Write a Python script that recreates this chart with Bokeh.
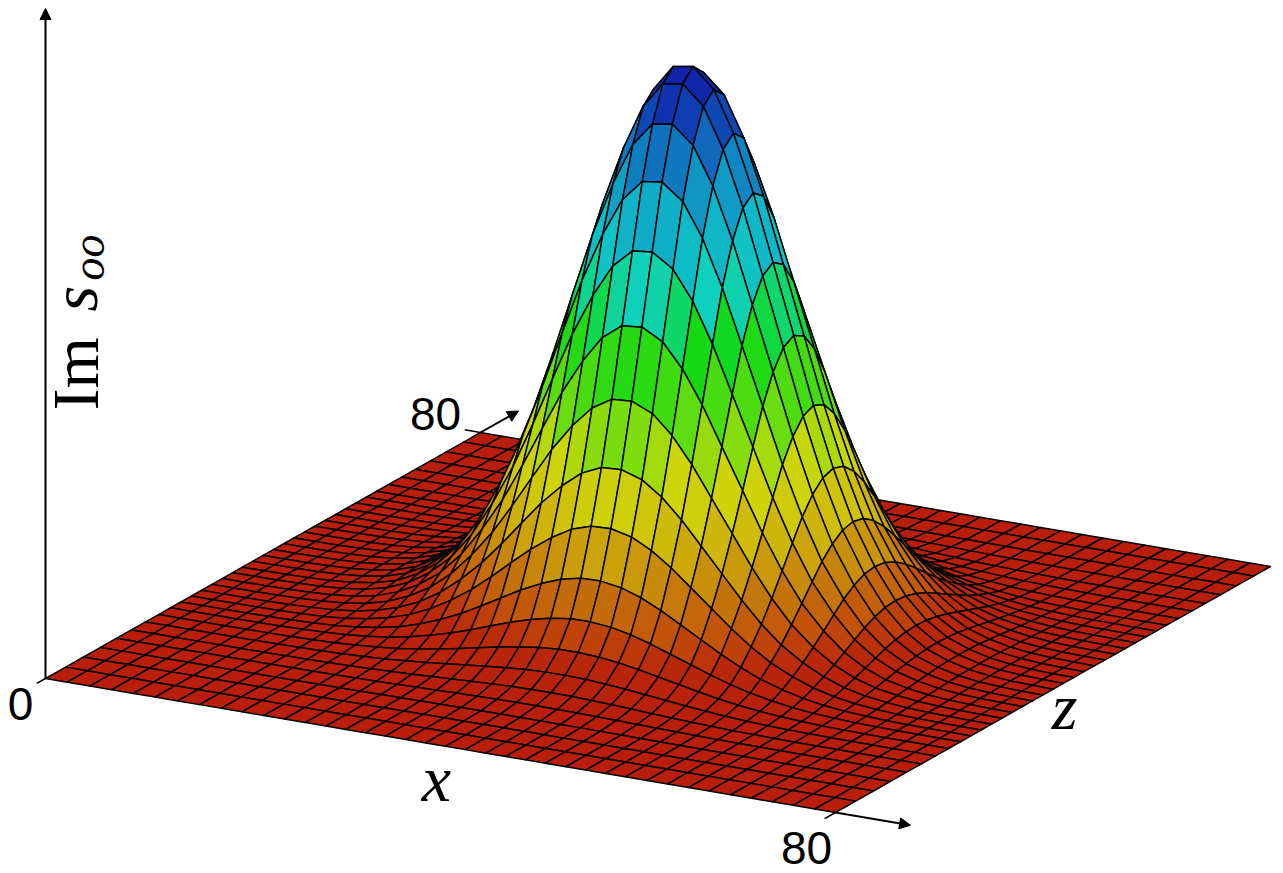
import numpy as np
from bokeh.plotting import figure
from bokeh.models import Arrow, NormalHead, Label, Range1d
from bokeh.embed import file_html
from bokeh.resources import INLINE

# data
grid_x = [0, 2.2, 4.5, 6.7, 8.9, 11.1, 13.4, 15.6, 17.8, 19.9, 22.1, 24.2, 26.3, 28.4, 30.4, 32.4, 34.4, 36.5, 38.5, 40.5,
          42.5, 44.6, 46.6, 48.6, 50.6, 52.7, 54.7, 56.7, 58.7, 60.9, 63.0, 65.1, 67.2, 69.4, 71.5, 73.6, 75.7, 77.9, 80]
profile_x = [.0001, .0003, .0007, .0017, .0037, .0076, .015, .028, .051, .084, .133, .200, .288, .391, .507, .631, .753, .861, .944, .991,
             .997, .962, .889, .788, .669, .544, .424, .317, .227, .153, .098, .060, .035, .020, .0105, .0053, .0026, .0012, .0005]
grid_z = [0, 3.7, 7.0, 10.1, 13.1, 15.8, 18.4, 20.8, 23.0, 24.9, 26.8, 28.7, 30.6, 32.5, 34.4, 36.2, 38.1, 40.0,
          41.9, 43.8, 45.7, 47.6, 49.5, 51.4, 53.3, 55.2, 57.1, 59.0, 60.9, 63.1, 65.5, 68.0, 70.8, 73.7, 76.9, 80]
profile_z = [.0001, .0002, .0006, .0022, .0065, .015, .032, .060, .103, .166, .250, .346, .459, .582, .707, .823, .917, .979,
             1.0, .979, .917, .823, .707, .582, .459, .346, .250, .166, .103, .060, .032, .015, .0065, .0022, .0006, .0002]
tick_x = ["0", "80"]
tick_z = ["80"]

# colour scale: level, r, g, b
lev = [0.0, .05, .10, .15, .215, .30, .345, .40, .55, .60, .645, .77, .87, .95, 1.0]
red = [184, 186, 195, 197, 205, 208, 205, 120, 15, 15, 15, 15, 15, 15, 15]
grn = [30, 40, 85, 120, 170, 210, 215, 222, 218, 215, 208, 170, 110, 45, 30]
blu = [12, 11, 10, 10, 10, 10, 10, 15, 20, 110, 195, 200, 190, 175, 165]

# view of the box on the page
OX, OY = 45, 678
XV = (790 / 80, 134 / 80)
ZV = (435 / 80, -246 / 80)
HT = 556

def proj(x, z, y=0.0):
    x, z, y = np.asarray(x, float), np.asarray(z, float), np.asarray(y, float)
    return OX + x * XV[0] + z * ZV[0], OY + x * XV[1] + z * ZV[1] - y * HT

W, H = 1283, 873
p = figure(width=W, height=H, output_backend="svg", toolbar_location=None,
           x_range=Range1d(0, W), y_range=Range1d(H, 0), min_border=0)
p.axis.visible = False
p.grid.visible = False
p.outline_line_color = None

surf = np.outer(profile_z, profile_x)  # [z, x]
xs, ys, cols = [], [], []
for j in range(len(grid_z) - 2, -1, -1):
    for i in range(len(grid_x) - 1):
        xq = [grid_x[i], grid_x[i + 1], grid_x[i + 1], grid_x[i]]
        zq = [grid_z[j], grid_z[j], grid_z[j + 1], grid_z[j + 1]]
        hq = [surf[j, i], surf[j, i + 1], surf[j + 1, i + 1], surf[j + 1, i]]
        sx, sy = proj(xq, zq, hq)
        m = float(np.mean(hq))
        r, g, b = (int(np.interp(m, lev, c)) for c in (red, grn, blu))
        xs.append(sx.tolist()); ys.append(sy.tolist()); cols.append(f"#{r:02x}{g:02x}{b:02x}")
p.patches(xs, ys, fill_color=cols, line_color="#050505", line_width=1.5, line_join="round")

# axes and ticks
def arrow(a, b):
    (x0, y0), (x1, y1) = a, b
    p.add_layout(Arrow(end=NormalHead(size=11, fill_color="black", line_color="black"),
                       x_start=float(x0), y_start=float(y0), x_end=float(x1), y_end=float(y1),
                       line_color="black", line_width=2))

def seg(a, b):
    p.line([float(a[0]), float(b[0])], [float(a[1]), float(b[1])], line_color="black", line_width=1.6)

arrow(proj(0, 0), proj(0, 0, 1.205))
arrow(proj(80, 0), proj(87.6, 0))
arrow(proj(0, 80), proj(0, 87))
seg(proj(0, 0), proj(0, -1.6))
seg(proj(80, 0), proj(80, -2.0))
seg(proj(0, 80), proj(-1.6, 80))

def lab(txt, x, y, size, font="Liberation Sans", style="normal", angle=0.0, align="center", base="middle"):
    p.add_layout(Label(x=x, y=y, text=txt, text_font=font, text_font_size=f"{size}px",
                       text_font_style=style, angle=angle, text_align=align, text_baseline=base,
                       text_color="black"))

lab(tick_x[0], 20, 703, 46)
lab(tick_x[1], 806, 847, 46)
lab(tick_z[0], 435, 413, 46)
lab("x", 436, 778, 66, "Liberation Serif", "italic", base="alphabetic")
lab("z", 1064, 706, 66, "Liberation Serif", "italic", base="alphabetic")
lab("Im", 75, 410, 66, "Liberation Serif", angle=np.pi / 2, align="left", base="alphabetic")
lab("s", 74, 311, 66, "Liberation Serif", "italic", angle=np.pi / 2, align="left", base="alphabetic")
lab("oo", 88, 280, 46, "Liberation Serif", "italic", angle=np.pi / 2, align="left", base="alphabetic")

open("out.html", "w").write(file_html(p, INLINE))
